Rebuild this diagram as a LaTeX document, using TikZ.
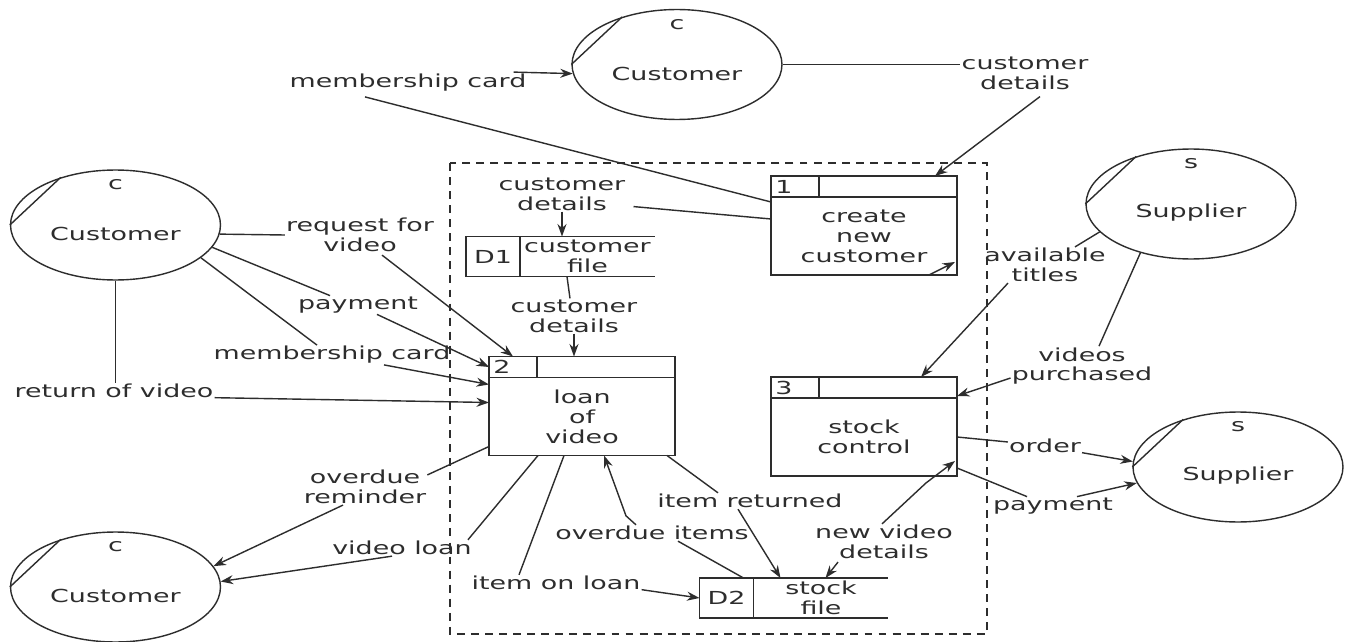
\documentclass[tikz,border=0pt]{standalone}
\usepackage{fontspec}
\usetikzlibrary{shapes.geometric,arrows.meta,calc}
\newfontfamily\dfdfont[FakeStretch=1.5]{DejaVu Sans}
\newcommand\dfd{\dfdfont\fontsize{10.2pt}{11.3pt}\selectfont}
\definecolor{ink}{RGB}{45,45,45}
\tikzset{
  link/.style={draw=ink, line width=0.8pt},
  flow/.style={draw=ink, line width=0.8pt, -{Stealth[length=2.5mm,width=1.8mm]}},
  entity/.style={ellipse, draw=ink, line width=0.8pt, minimum width=4.2cm, minimum height=2.2cm, inner sep=0pt},
  lbl/.style={font=\dfd, text=ink, align=center, inner sep=0.5pt},
  prochead/.style={rectangle, draw=ink, line width=0.8pt, minimum width=3.72cm, minimum height=0.42cm, inner sep=0pt, outer sep=0pt},
  procbody/.style={rectangle, draw=ink, line width=0.8pt, minimum width=3.72cm, minimum height=1.56cm, inner sep=0pt, outer sep=0pt, font=\dfd, align=center, text=ink},
  storeid/.style={rectangle, draw=ink, line width=0.8pt, minimum width=1.08cm, minimum height=0.8cm, inner sep=0pt, outer sep=0pt, font=\dfd, text=ink},
  storename/.style={rectangle, minimum width=2.7cm, minimum height=0.8cm, inner sep=0pt, outer sep=0pt, font=\dfd, align=center, text=ink},
  boundary/.style={draw=ink, line width=0.8pt, dash pattern=on 4.5pt off 3.5pt},
}
\begin{document}
\begin{tikzpicture}[x=0.02cm,y=-0.02cm]
\fill[white] (0,0) rectangle (1353,642);
\useasboundingbox (0,0) rectangle (1353,642);

% system boundary
\draw[boundary] (450,163) rectangle (987,634);

% external entities
\node[entity] (cuT) at (677,64.5) {};
\node[entity] (cuL) at (115.5,225) {};
\node[entity] (cuB) at (115.5,587) {};
\node[entity] (suT) at (1191,204) {};
\node[entity] (suR) at (1238,467) {};
\foreach \e/\nm/\lab in {cuT/Customer/c, cuL/Customer/c, cuB/Customer/c, suT/Supplier/s, suR/Supplier/s} {
  \draw[link] (\e.180) -- (\e.139);
  \node[lbl] (\e-id) at ($(\e.center)+(0,-40)$) {\lab};
  \node[lbl] (\e-name) at ($(\e.center)+(0,9)$) {\nm};
}

% processes
\node[prochead] (p1h) at (864,186.5) {};
\node[procbody, anchor=north] (p1) at (p1h.south) {create\\new\\customer};
\draw[link] ($(p1h.north west)+(48,0)$) -- ($(p1h.south west)+(48,0)$);
\node[lbl] (p1id) at ($(p1h.west)+(13,0)$) {1};

\node[prochead] (p2h) at (582,367) {};
\node[procbody, anchor=north] (p2) at (p2h.south) {loan\\of\\video};
\draw[link] ($(p2h.north west)+(48,0)$) -- ($(p2h.south west)+(48,0)$);
\node[lbl] (p2id) at ($(p2h.west)+(13,0)$) {2};

\node[prochead] (p3h) at (864,387.5) {};
\node[procbody, anchor=north] (p3) at (p3h.south) {stock\\control};
\draw[link] ($(p3h.north west)+(48,0)$) -- ($(p3h.south west)+(48,0)$);
\node[lbl] (p3id) at ($(p3h.west)+(13,0)$) {3};

% data stores
\node[storeid] (d1id) at (493,256.5) {D1};
\node[storename, anchor=west] (d1) at (d1id.east) {customer\\file};
\draw[link] (d1id.north east) -- (d1.north east) (d1id.south east) -- (d1.south east);

\node[storeid] (d2id) at (726.5,598) {D2};
\node[storename, anchor=west] (d2) at (d2id.east) {stock\\file};
\draw[link] (d2id.north east) -- (d2.north east) (d2id.south east) -- (d2.south east);

% flow labels
\node[lbl] (Lmct) at (408,83) {membership card};
\node[lbl] (Lcdt) at (1025,73) {customer\\details};
\node[lbl] (Lcd1) at (562,194) {customer\\details};
\node[lbl] (Lrfv) at (360,235) {request for\\video};
\node[lbl] (Lpay) at (358,305) {payment};
\node[lbl] (Lmc2) at (332,355) {membership card};
\node[lbl] (Lrov) at (114,391) {return of video};
\node[lbl] (Lcd2) at (574,316) {customer\\details};
\node[lbl] (Lat) at (1045,265) {available\\titles};
\node[lbl] (Lvp) at (1082,366) {videos\\purchased};
\node[lbl] (Lord) at (1045,446) {order};
\node[lbl] (Lpay2) at (1053,506) {payment};
\node[lbl] (Lor) at (365,487) {overdue\\reminder};
\node[lbl] (Lvl) at (402,548) {video loan};
\node[lbl] (Liol) at (556,583) {item on loan};
\node[lbl] (Loi) at (652,533) {overdue items};
\node[lbl] (Lir) at (750,501) {item returned};
\node[lbl] (Lnvd) at (884,542) {new video\\details};

% connectors
\draw[flow] ($(Lmct.north east)+(-14,-1)$) -- (cuT.185);
\draw[link] ($(p1.north west)+(0,5)$) -- ($(Lmct.south)+(-43,4)$);
\draw[link] (cuT.east) -- (cuT.east -| Lcdt.west);
\draw[flow] ($(Lcdt.south)+(15,6)$) -- ($(p1h.north east)+(-22,0)$);
\draw[link] ($(p1.north west)+(0,22)$) -- ($(Lcd1.south east)+(7,-5)$);
\draw[flow] (Lcd1.south) -- (Lcd1.south |- d1.north);
\draw[link] ($(d1.south west)+(47,0)$) -- ($(Lcd2.north)+(-4,0)$);
\draw[flow] (Lcd2.south) -- (Lcd2.south |- p2h.north);

\draw[link] (cuL.355) -- (Lrfv.west);
\draw[flow] ($(Lrfv.south)+(22,2)$) -- ($(p2h.north west)+(24,0)$);
\draw[link] (cuL.-13) -- ($(Lpay.north)+(-28,0)$);
\draw[flow] ($(Lpay.south)+(19,0)$) -- (p2h.west);
\draw[link] (cuL.-21) -- ($(Lmc2.north)+(-15,0)$);
\draw[flow] ($(Lmc2.south)+(52,0)$) -- ($(p2.north west)+(0,7)$);
\draw[link] (cuL.south) -- (cuL.south |- Lrov.north);
\draw[flow] (Lrov.base east) -- ($(p2.north west)+(0,25)$);

\draw[link] ($(p2.south west)+(0,-9)$) -- ($(Lor.north east)+(0,6)$);
\draw[flow] ($(Lor.south)+(-22,0)$) -- (cuB.12);
\draw[link] ($(p2.south west)+(49,0)$) -- ($(Lvl.north east)+(-5,0)$);
\draw[flow] ($(Lvl.south)+(-10,0)$) -- (cuB.3);
\draw[link] ($(p2.south west)+(75,0)$) -- ($(Liol.north)+(-37,0)$);
\draw[flow] (Liol.base east) -- (d2id.west);
\draw[link] ($(d2id.north east)+(-10,0)$) -- ($(Loi.south)+(26,0)$);
\draw[flow] ($(Loi.north)+(-16,0)$) -- ($(Loi.north)+(-26,-9)$) -- ($(p2.south west)+(115,0)$);
\draw[link] ($(p2.south east)+(-8,0)$) -- ($(Lir.north)+(-32,0)$);
\draw[flow] ($(Lir.south)+(-12,0)$) -- ($(d2.north west)+(27,0)$);
\draw[flow] ($(Lnvd.south)+(-46,2)$) -- ($(d2.north west)+(72,0)$);
\draw[flow] ($(Lnvd.north)+(-2,0)$) -- ($(p3.south east)+(-31,7)$) -- ($(p3.south east)+(-2,-15)$);
\draw[flow] ($(p1.south east)+(-28,0)$) -- ($(p1.south east)+(-2,-13)$);

\draw[link] (suT.197) -- ($(Lat.north)+(30,0)$);
\draw[flow] ($(Lat.south)+(-37,0)$) -- ($(p3h.north west)+(150,0)$);
\draw[link] (suT.224) -- ($(Lvp.north)+(17,0)$);
\draw[flow] ($(Lvp.west)+(0,12)$) -- ($(p3h.south east)+(0,-2)$);
\draw[link] (p3.east) -- ($(Lord.west)+(0,-4)$);
\draw[flow] (Lord.base east) -- (suR.177);
\draw[link] ($(p3.south east)+(0,-8)$) -- ($(Lpay2.north)+(-26,0)$);
\draw[flow] ($(Lpay2.north)+(24,0)$) -- (suR.189);
\end{tikzpicture}
\end{document}
